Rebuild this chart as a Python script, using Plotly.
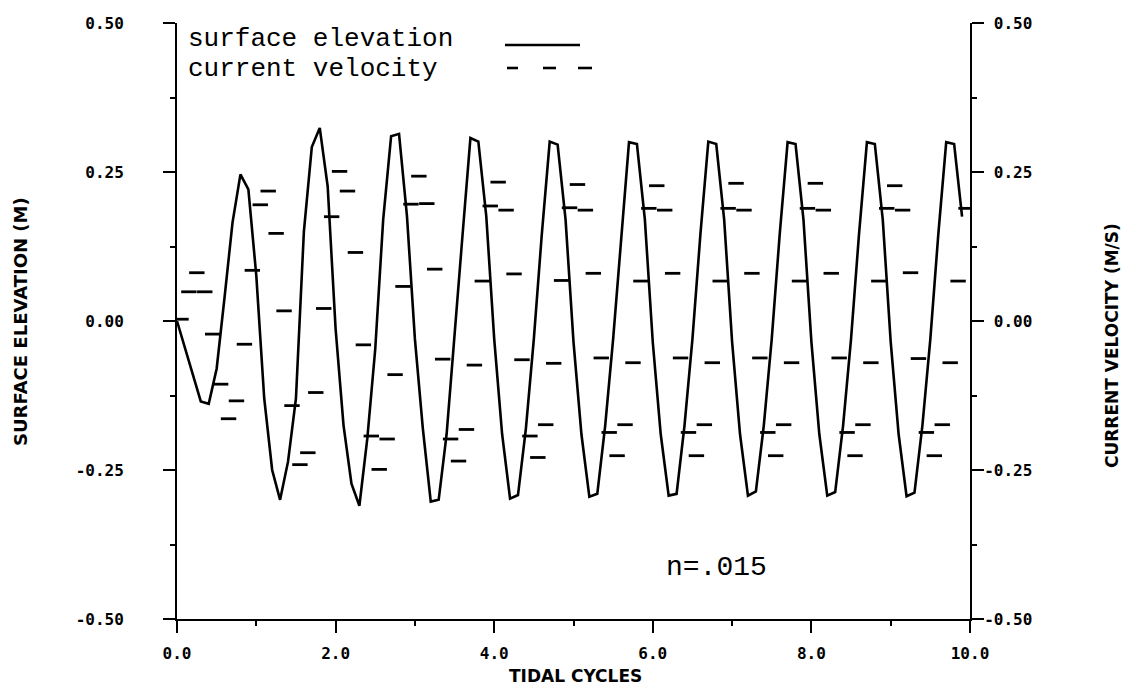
import plotly.graph_objects as go

# ---- data ----
elev_time = [round(0.1 * i, 1) for i in range(100)]          # tidal cycles
surface_elevation = [
    0.000, -0.045, -0.090, -0.135, -0.139, -0.080, 0.040, 0.165, 0.246, 0.221,
    0.076, -0.130, -0.250, -0.300, -0.236, -0.130, 0.150, 0.292, 0.324, 0.226,
    -0.013, -0.175, -0.273, -0.310, -0.197, -0.047, 0.170, 0.310, 0.314, 0.176,
    -0.030, -0.180, -0.303, -0.300, -0.190, -0.030, 0.143, 0.307, 0.301, 0.176,
    -0.030, -0.190, -0.298, -0.292, -0.180, -0.030, 0.145, 0.301, 0.296, 0.170,
    -0.035, -0.190, -0.295, -0.290, -0.175, -0.030, 0.143, 0.300, 0.297, 0.170,
    -0.036, -0.190, -0.293, -0.290, -0.175, -0.030, 0.145, 0.301, 0.297, 0.170,
    -0.035, -0.190, -0.293, -0.286, -0.175, -0.030, 0.145, 0.300, 0.297, 0.170,
    -0.035, -0.190, -0.293, -0.287, -0.175, -0.030, 0.145, 0.300, 0.297, 0.170,
    -0.035, -0.190, -0.294, -0.288, -0.175, -0.030, 0.145, 0.300, 0.297, 0.175,
]

vel_time = [round(0.05 + 0.1 * i, 2) for i in range(100)]    # tidal cycles
current_velocity = [
    0.003, 0.049, 0.081, 0.049, -0.022, -0.106, -0.164, -0.134, -0.039, 0.085,
    0.195, 0.218, 0.147, 0.017, -0.142, -0.241, -0.221, -0.120, 0.021, 0.175,
    0.251, 0.218, 0.115, -0.040, -0.193, -0.249, -0.198, -0.090, 0.058, 0.196,
    0.243, 0.197, 0.087, -0.064, -0.198, -0.235, -0.182, -0.074, 0.067, 0.193,
    0.233, 0.186, 0.079, -0.065, -0.193, -0.229, -0.174, -0.071, 0.068, 0.190,
    0.229, 0.186, 0.080, -0.062, -0.187, -0.226, -0.174, -0.070, 0.067, 0.189,
    0.227, 0.186, 0.080, -0.062, -0.187, -0.226, -0.174, -0.070, 0.067, 0.189,
    0.231, 0.186, 0.080, -0.062, -0.187, -0.226, -0.174, -0.070, 0.067, 0.189,
    0.231, 0.186, 0.080, -0.062, -0.187, -0.226, -0.174, -0.070, 0.067, 0.189,
    0.227, 0.186, 0.081, -0.063, -0.187, -0.226, -0.174, -0.070, 0.067, 0.189,
]

x_ticks = [0, 2, 4, 6, 8, 10]
x_ticktext = ["0.0", "2.0", "4.0", "6.0", "8.0", "10.0"]
x_minor = [1, 3, 5, 7, 9]
y_ticks = [-0.5, -0.25, 0.0, 0.25, 0.5]
y_ticktext_left = ["-0.50", "-0.25", "0.00", "0.25", "0.50"]
y_ticktext_right = ["-0.50", "-0.25", "\u00a00.00", "\u00a00.25", "\u00a00.50"]
y_minor = [-0.375, -0.125, 0.125, 0.375]

# ---- figure ----
W, H = 1133, 692
L, R, T, B = 177, 163, 23, 73
pw, ph = W - L - R, H - T - B

def px_x(p):
    return (p - L) / pw

def px_y(p):
    return (H - B - p) / ph

tick_font = dict(family="DejaVu Sans Mono", size=16, color="black", weight="bold")
legend_font = dict(family="Liberation Mono", size=26, color="black")

fig = go.Figure()
fig.add_trace(go.Scatter(
    x=elev_time, y=surface_elevation, mode="lines",
    line=dict(color="black", width=2.6), name="surface elevation",
    showlegend=False,
))
fig.add_trace(go.Scatter(
    x=vel_time, y=current_velocity, mode="markers", yaxis="y2",
    marker=dict(symbol="line-ew", size=11, line=dict(color="black", width=2.8)),
    name="current velocity", showlegend=False,
))

axis_common = dict(showgrid=False, zeroline=False, showline=True,
                   linecolor="black", linewidth=2, ticks="outside",
                   tickcolor="black", tickwidth=2, ticklen=12)

fig.update_layout(
    width=W, height=H,
    margin=dict(l=L, r=R, t=T, b=B, pad=0),
    paper_bgcolor="white", plot_bgcolor="white",
    xaxis=dict(range=[0, 10], tickvals=x_ticks, ticktext=x_ticktext,
               tickfont=tick_font, ticklabelstandoff=7,
               minor=dict(tickvals=x_minor, ticks="outside", ticklen=5,
                          tickwidth=2, tickcolor="black"),
               **axis_common),
    yaxis=dict(range=[-0.5, 0.5], tickvals=y_ticks, ticktext=y_ticktext_left,
               tickfont=tick_font, ticklabelstandoff=36,
               minor=dict(tickvals=y_minor, ticks="outside", ticklen=5,
                          tickwidth=2, tickcolor="black"),
               **axis_common),
    yaxis2=dict(range=[-0.5, 0.5], overlaying="y", side="right",
                tickvals=y_ticks, ticktext=y_ticktext_right,
                tickfont=tick_font, ticklabelstandoff=-3,
                minor=dict(tickvals=y_minor, ticks="outside", ticklen=5,
                           tickwidth=2, tickcolor="black"),
                **axis_common),
)

annotations = [
    dict(text="TIDAL CYCLES", x=px_x(575), y=px_y(676), xref="paper", yref="paper",
         xanchor="center", yanchor="middle", showarrow=False,
         font=dict(family="DejaVu Sans", size=17, color="black", weight="bold")),
    dict(text="SURFACE ELEVATION (M)", x=px_x(20), y=px_y(322), xref="paper", yref="paper",
         xanchor="center", yanchor="middle", textangle=-90, showarrow=False,
         font=dict(family="DejaVu Sans", size=18, color="black", weight="bold")),
    dict(text="CURRENT VELOCITY (M/S)", x=px_x(1112), y=px_y(346), xref="paper", yref="paper",
         xanchor="center", yanchor="middle", textangle=-90, showarrow=False,
         font=dict(family="DejaVu Sans", size=17, color="black", weight="bold")),
    dict(text="surface elevation", x=px_x(186), y=px_y(39), xref="paper", yref="paper",
         xanchor="left", yanchor="middle", showarrow=False, font=legend_font),
    dict(text="current velocity", x=px_x(186), y=px_y(69), xref="paper", yref="paper",
         xanchor="left", yanchor="middle", showarrow=False, font=legend_font),
    dict(text="n=.015", x=px_x(716), y=px_y(567), xref="paper", yref="paper",
         xanchor="center", yanchor="middle", showarrow=False,
         font=dict(family="Liberation Mono", size=28, color="black")),
]
fig.update_layout(annotations=annotations)

shapes = [dict(type="line", xref="paper", yref="paper",
               x0=px_x(505), x1=px_x(580), y0=px_y(45), y1=px_y(45),
               line=dict(color="black", width=2.4))]
for a, b in [(507, 518), (543, 556), (578, 592)]:
    shapes.append(dict(type="line", xref="paper", yref="paper",
                       x0=px_x(a), x1=px_x(b), y0=px_y(68), y1=px_y(68),
                       line=dict(color="black", width=2.6)))
fig.update_layout(shapes=shapes)

fig.write_html("out.html")
